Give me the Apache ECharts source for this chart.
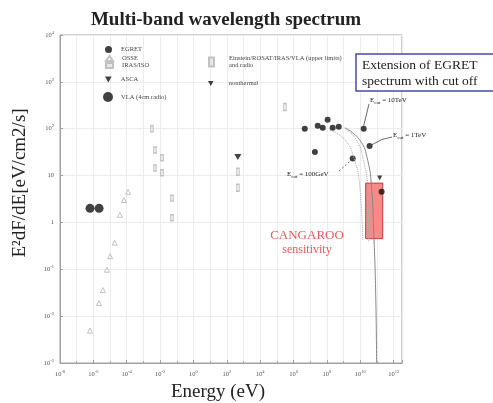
<!DOCTYPE html>
<html>
<head>
<meta charset="utf-8">
<script src="https://cdn.jsdelivr.net/npm/echarts@6/dist/echarts.min.js"></script>
<style>
html,body{margin:0;padding:0;background:#fff}
#chart{width:493px;height:403px}
</style>
</head>
<body>
<div id="chart"></div>
<script>
// Energies in eV, fluxes E^2 dF/dE in eV/cm2/s
const egretE = [4.7e6, 1.9e7, 2.8e7, 5.6e7, 1.1e8, 2.2e8, 5.1e8];
const egretF = [100, 32, 115, 105, 155, 105, 110];
const cutE = [3.5e9, 1.6e10, 3.6e10];
const cutF = [23, 100, 43];
const cutLabels = ['100GeV', '10TeV', '1TeV'];
const vlaE = [6.3e-7, 2.2e-6];
const vlaF = [2.0, 2.0];
const radioE = [6.3e-7, 2.2e-6, 3.7e-6, 6.5e-6, 1.0e-5, 1.9e-5, 3.9e-5, 6.8e-5, 1.2e-4];
const radioF = [4.9e-3, 1.9e-2, 3.6e-2, 9.8e-2, 0.19, 0.37, 1.45, 3.0, 4.5];
const irE = [3.2e-3, 4.9e-3, 1.3e-2, 4.9e-3, 1.3e-2, 5.1e-2, 5.1e-2];
const irF = [100, 35, 24, 14.5, 11.5, 3.3, 1.26];
const ascaE = [457];
const ascaF = [25];
const softE = [457, 457, 3.0e5];
const softF = [12, 5.5, 290];
const tevE = [1.45e11];
const tevF = [8.9];
const tevLimE = [1.9e11];
const tevLimF = [4.5];
// cut-off extensions of the EGRET spectrum
const cutA_E = [1.5e8, 1.2e9, 4.6e9, 9.1e9, 1.4e10];
const cutA_F = [93, 58, 21, 6.3, 0.43];
const cutB_E = [1.2e9, 5.5e9, 1.6e10, 2.8e10, 3.2e10];
const cutB_F = [100, 60, 20, 5, 0.4];
const cutC_E = [1.2e9, 9.1e9, 2.8e10, 4.8e10, 6.3e10, 8.3e10, 9.5e10];
const cutC_F = [105, 58, 21, 5.0, 0.69, 0.036, 1e-3];
// CANGAROO sensitivity band
const cangE = [2.1e10, 2.2e11];
const cangF = [0.45, 6.9];

const L = Math.log10;
const pts = (e, f) => e.map((v, i) => [L(v), L(f[i])]);

const serif = 'Liberation Serif, DejaVu Serif, serif';
const ink = '#222';
const grey = '#b4b4b4';
const downTri = 'path://M0,0L10,0L5,9Z';

function powLabel(v, plainLow) {
  const e = Math.round(v);
  if (Math.abs(v - e) > 1e-6) return '';
  if (plainLow && e === 0) return '{b|1}';
  if (plainLow && e === 1) return '{b|10}';
  return '{b|10}{s|' + e + '}';
}
const richTicks = {
  b: { fontSize: 6.5, fontFamily: serif, color: '#555' },
  s: { fontSize: 4.5, fontFamily: serif, color: '#555', verticalAlign: 'top', padding: [0, 0, 5, 0] }
};
const oneLegend = (name, left, top, w, h, gap) => ({
  data: [name], left, top, itemWidth: w, itemHeight: h, itemGap: 0,
  textStyle: { fontFamily: serif, fontSize: 6.5, color: '#444', padding: [0, 0, 0, gap] },
  padding: 0, selectedMode: false
});

const chart = echarts.init(document.getElementById('chart'));
chart.setOption({
  backgroundColor: '#fff',
  animation: false,
  title: {
    text: 'Multi-band wavelength spectrum',
    left: 221, top: 6, textAlign: 'center',
    textStyle: { fontFamily: serif, fontWeight: 'bold', fontSize: 19, color: ink }
  },
  legend: [
    oneLegend('EGRET', 105, 46, 7, 7, 4),
    oneLegend('OSSE', 105, 55, 7, 5, 4),
    oneLegend('IRAS/ISO', 105, 62, 7, 5, 4),
    oneLegend('ASCA', 105, 76, 7, 6, 4),
    oneLegend('VLA (4cm radio)', 103, 92, 10, 10, 3),
    oneLegend('Einstein/ROSAT/IRAS/VLA (upper limits)\nand radio', 208, 55, 5, 9, 10),
    oneLegend('nonthermal', 208, 80, 6, 5, 10)
  ],
  grid: { left: 60, right: 91, top: 35, bottom: 40, outerBoundsMode: 'none', containLabel: false,
    show: true, borderColor: '#a0a0a0', borderWidth: 1 },
  xAxis: {
    type: 'value', min: -8, max: 12.5, interval: 2,
    name: 'Energy (eV)', nameLocation: 'middle', nameGap: 19,
    nameTextStyle: { fontFamily: serif, fontSize: 19, color: ink, padding: [0, 26, 0, 0] },
    axisLine: { onZero: false, lineStyle: { color: '#a0a0a0' } },
    axisTick: { inside: true, length: 3, lineStyle: { color: '#a0a0a0' } },
    minorTick: { show: true, splitNumber: 2, length: 2, lineStyle: { color: '#aaa' } },
    splitLine: { show: true, lineStyle: { color: '#ececec', width: 1 } },
    minorSplitLine: { show: true, lineStyle: { color: '#ececec', width: 1 } },
    axisLabel: { formatter: v => powLabel(v, false), rich: richTicks, margin: 6 }
  },
  yAxis: {
    type: 'value', min: -3, max: 4, interval: 1,
    name: 'E\u00b2dF/dE[eV/cm2/s]', nameLocation: 'middle', nameGap: 30,
    nameTextStyle: { fontFamily: serif, fontSize: 19, color: ink, padding: [0, 0, 0, 32] },
    axisLine: { onZero: false, lineStyle: { color: '#a0a0a0' } },
    axisTick: { inside: true, length: 3, lineStyle: { color: '#a0a0a0' } },
    splitLine: { show: true, lineStyle: { color: '#ececec', width: 1 } },
    axisLabel: { formatter: v => powLabel(v, true), rich: richTicks, margin: 6 }
  },
  series: [
    { name: 'CANGAROO', type: 'line', data: [], silent: true,
      markArea: { silent: true,
        itemStyle: { color: '#f58a88', borderColor: '#c43c3c', borderWidth: 1 },
        data: [[{ coord: [L(cangE[0]), L(cangF[1])] }, { coord: [L(cangE[1]), L(cangF[0])] }]] } },
    { name: 'cutA', type: 'line', smooth: true, symbol: 'none', data: pts(cutA_E, cutA_F),
      lineStyle: { color: '#aaa', width: 1, type: 'dotted' } },
    { name: 'cutB', type: 'line', smooth: true, symbol: 'none', data: pts(cutB_E, cutB_F),
      lineStyle: { color: '#aaa', width: 1, type: 'dotted' } },
    { name: 'cutC', type: 'line', smooth: true, symbol: 'none', data: pts(cutC_E, cutC_F),
      lineStyle: { color: '#888', width: 1 } },
    { name: 'OSSE', type: 'scatter', symbol: 'triangle', symbolSize: 5, data: pts(radioE, radioF),
      itemStyle: { color: 'rgba(0,0,0,0)', borderColor: grey, borderWidth: 1 } },
    { name: 'IRAS/ISO', type: 'scatter', symbol: 'rect', symbolSize: [3, 6], data: pts(irE, irF),
      itemStyle: { color: '#e2e2e2', borderColor: grey, borderWidth: 1 } },
    { name: 'Einstein/ROSAT/IRAS/VLA (upper limits)\nand radio', type: 'scatter', symbol: 'rect', symbolSize: [3, 7],
      data: pts(softE, softF), itemStyle: { color: '#e2e2e2', borderColor: grey, borderWidth: 1 } },
    { name: 'VLA (4cm radio)', type: 'scatter', symbol: 'circle', symbolSize: 9, data: pts(vlaE, vlaF),
      itemStyle: { color: '#111' } },
    { name: 'EGRET', type: 'scatter', symbol: 'circle', symbolSize: 6, data: pts(egretE, egretF),
      itemStyle: { color: '#111' } },
    { name: 'cut', type: 'scatter', symbol: 'circle', symbolSize: 6, data: pts(cutE, cutF),
      itemStyle: { color: '#111' } },
    { name: 'ASCA', type: 'scatter', symbol: downTri, symbolSize: [7, 6], data: pts(ascaE, ascaF),
      itemStyle: { color: '#111' } },
    { name: 'nonthermal', type: 'scatter', symbol: downTri, symbolSize: [5, 5], data: pts(tevE, tevF),
      itemStyle: { color: '#111' } },
    { name: 'tevLim', type: 'scatter', symbol: 'circle', symbolSize: 6, data: pts(tevLimE, tevLimF),
      itemStyle: { color: '#111' } }
  ]
});

// annotations anchored to data coordinates
const px = (e, f) => chart.convertToPixel({ gridIndex: 0 }, [L(e), L(f)]);
const red = '#e8585a';
const cutTxt = s => '{e|E}{c|cut}{t| = ' + s + '}';
const cutRich = {
  e: { fontFamily: serif, fontSize: 7, fill: ink },
  c: { fontFamily: serif, fontSize: 5, fill: ink, verticalAlign: 'bottom', padding: [4, 0, 0, 0] },
  t: { fontFamily: serif, fontSize: 7, fill: ink }
};
const p100 = px(cutE[0], cutF[0]);
const p10t = px(cutE[1], cutF[1]);
const p1t = px(cutE[2], cutF[2]);
const graphic = [
  { type: 'text', x: 307, y: 236, style: { text: 'CANGAROO', fill: red, font: '13px ' + serif, align: 'center', verticalAlign: 'middle' } },
  { type: 'text', x: 307, y: 250, style: { text: 'sensitivity', fill: red, font: '12px ' + serif, align: 'center', verticalAlign: 'middle' } },
  { type: 'rect', shape: { x: 356, y: 54, width: 140, height: 37 }, style: { fill: '#fff', stroke: '#4a4aa8', lineWidth: 1.5 } },
  { type: 'text', x: 362, y: 57, style: { text: 'Extension of EGRET\nspectrum with cut off', fill: ink, font: '13.5px ' + serif, lineHeight: 16 } },
  { type: 'text', x: 287, y: 170, style: { text: cutTxt(cutLabels[0]), rich: cutRich } },
  { type: 'line', shape: { x1: 339, y1: 171, x2: p100[0] - 2, y2: p100[1] + 2 }, style: { stroke: '#444', lineWidth: 0.8, lineDash: [2, 2] } },
  { type: 'text', x: 370, y: 96, style: { text: cutTxt(cutLabels[1]), rich: cutRich } },
  { type: 'line', shape: { x1: 369, y1: 104, x2: p10t[0], y2: p10t[1] - 3 }, style: { stroke: '#444', lineWidth: 0.8 } },
  { type: 'text', x: 393, y: 131, style: { text: cutTxt(cutLabels[2]), rich: cutRich } },
  { type: 'bezierCurve', shape: { x1: 392, y1: 137, cpx1: 382, cpy1: 138, x2: p1t[0] + 2, y2: p1t[1] - 1 }, style: { stroke: '#444', lineWidth: 0.8, fill: null } }
];
chart.setOption({ graphic });
</script>
</body>
</html>
